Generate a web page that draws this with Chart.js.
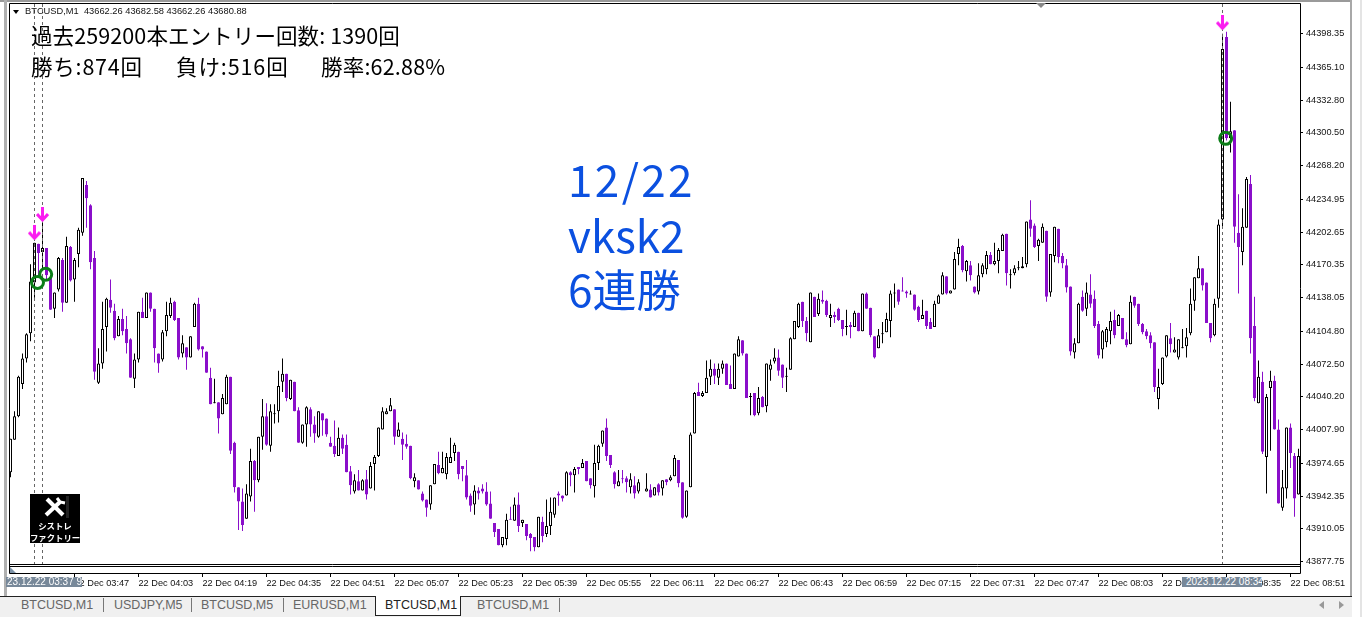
<!DOCTYPE html>
<html>
<head>
<meta charset="utf-8">
<title>BTCUSD,M1</title>
<script src="https://cdn.jsdelivr.net/npm/chart.js@4"></script>
<style>
  html, body { margin: 0; padding: 0; background: #fff; overflow: hidden; }
  body { width: 1362px; height: 617px; position: relative; font-family: "Liberation Sans", sans-serif; }
  #chart { position: absolute; left: 0; top: 0; }
  .abs { position: absolute; white-space: nowrap; }
  .stats { font-family: "Noto Sans CJK JP", sans-serif; font-size: 21.5px; line-height: 26px; color: #000; letter-spacing: 0.5px; }
  .big { font-family: "Noto Sans CJK JP", sans-serif; font-size: 44px; line-height: 56px; color: #0b50e0; left: 568px; }
  .datebox { background: #778899; color: #fff; font-size: 10px; line-height: 10px; height: 10px; top: 577px; overflow: hidden; }
  .tab { top: 598px; font-size: 12.5px; line-height: 15px; color: #666; }
  .sep { top: 598px; width: 1px; height: 14px; background: #777; }
  #logo { left: 30px; top: 494px; width: 50px; height: 49px; background: #000; color: #fff; text-align: center;
          font-family: "Noto Sans CJK JP", sans-serif; font-weight: 700; font-size: 8.4px; line-height: 12px; }
</style>
</head>
<body>
<canvas id="chart" width="1362" height="617"></canvas>

<!-- window frame -->
<div class="abs" style="left:0;top:0;width:1352px;height:2px;background:#9a9a9a"></div>
<div class="abs" style="left:4px;top:0;width:3px;height:596px;background:#b0b0b0"></div>
<div class="abs" style="left:1350px;top:0;width:2px;height:596px;background:#a8a8a8"></div>
<div class="abs" style="left:1360px;top:0;width:2px;height:617px;background:#e4e4e4"></div>
<div class="abs" style="left:0;top:596px;width:1352px;height:21px;background:#f0f0f0;border-top:1px solid #222;box-sizing:border-box"></div>

<!-- header -->
<div class="abs" style="left:13px;top:10px;border-left:3px solid transparent;border-right:3px solid transparent;border-top:4px solid #000"></div>
<div class="abs" style="left:1036px;top:3px;border-left:5px solid transparent;border-right:5px solid transparent;border-top:5px solid #888"></div>
<div class="abs" style="left:25px;top:6px;font-size:9.3px;line-height:11px;color:#111">BTCUSD,M1&nbsp; 43662.26 43682.58 43662.26 43680.88</div>
<div class="abs stats" style="left:31px;top:22px;letter-spacing:0.1px">過去259200本エントリー回数: 1390回</div>
<div class="abs stats" style="left:31px;top:53px;letter-spacing:0.8px">勝ち:874回</div>
<div class="abs stats" style="left:176px;top:53px;letter-spacing:0.9px">負け:516回</div>
<div class="abs stats" style="left:321px;top:53px;letter-spacing:0.2px">勝率:62.88%</div>

<div class="abs big" style="top:150px;letter-spacing:2.4px">12/22</div>
<div class="abs big" style="top:206px">vksk2</div>
<div class="abs big" style="top:260px">6連勝</div>

<!-- logo -->
<div class="abs" id="logo">
  <svg width="50" height="25" style="display:block">
    <g stroke="#fff" stroke-width="4" fill="none">
      <path d="M17 5 L33 21"/>
      <path d="M16 21 L30 8"/>
      <path d="M27 4 L30 8 L35 9" stroke-width="3"/>
    </g>
    <rect x="36" y="2" width="3" height="22" fill="#222"/>
  </svg>
  <div style="line-height:12px">シストレ</div>
  <div style="line-height:12px">ファクトリー</div>
</div>

<!-- strip marker and crosshair dates -->
<div class="abs" style="left:10px;top:567px;width:0;height:0;border-bottom:6px solid #7d93a8;border-right:6px solid transparent"></div>
<div class="abs datebox" style="left:6px;width:76px;text-indent:1px">23.12.22 03:37 9</div>
<div class="abs datebox" style="left:1182px;width:80px;text-indent:4px">2023.12.22 08:34</div>

<!-- tabs -->
<div class="abs" style="left:375px;top:596px;width:86px;height:20px;background:#fff;border:1px solid #222;border-top:0;box-sizing:border-box"></div>
<div class="abs tab" style="left:21px">BTCUSD,M1</div>
<div class="abs sep" style="left:103px"></div>
<div class="abs tab" style="left:114px">USDJPY,M5</div>
<div class="abs sep" style="left:191px"></div>
<div class="abs tab" style="left:201px">BTCUSD,M5</div>
<div class="abs sep" style="left:283px"></div>
<div class="abs tab" style="left:293px">EURUSD,M1</div>
<div class="abs tab" style="left:385px;color:#222">BTCUSD,M1</div>
<div class="abs tab" style="left:477px">BTCUSD,M1</div>
<div class="abs sep" style="left:559px"></div>
<div class="abs" style="left:1319px;top:601px;border-top:4px solid transparent;border-bottom:4px solid transparent;border-right:5px solid #999"></div>
<div class="abs" style="left:1339px;top:601px;border-top:4px solid transparent;border-bottom:4px solid transparent;border-left:5px solid #999"></div>

<script>
// candle values, one minute per bar, first bar is 03:31
const bodyTop = [
  43999,44021,44060,44078,44102,44154,44192,44191,44187,44187,
  44158,44143,44177,44175,44189,44188,44175,44205,44256,44249,
  44229,44177,44073,44107,44137,44136,44125,44117,44117,44107,
  44097,44077,44124,44124,44143,44143,44127,44083,44104,44121,
  44133,44134,44118,44093,44089,44100,44132,44132,44090,44085,
  44059,44035,44035,44039,44060,44060,43995,43951,43937,43945,
  43977,43977,44001,44021,44021,44026,44024,44051,44063,44063,
  44057,44055,44027,44013,44030,44028,44013,44026,44024,44019,
  43995,43992,44000,44000,43993,43967,43958,43957,43958,43959,
  43972,43981,44010,44026,44026,44032,44028,44008,43999,43994,
  43992,43961,43958,43945,43939,43953,43974,43973,43970,43981,
  43981,43993,43986,43972,43963,43943,43948,43948,43950,43947,
  43935,43916,43910,43902,43919,43920,43934,43934,43919,43915,
  43905,43902,43922,43917,43913,43927,43941,43945,43943,43966,
  43966,43969,43971,43975,43977,43960,43975,43992,44007,44010,
  43983,43966,43957,43960,43960,43959,43953,43956,43955,43950,
  43949,43951,43954,43958,43959,43961,43980,43978,43956,43948,
  44003,44044,44045,44044,44059,44068,44068,44068,44073,44073,
  44053,44083,44097,44096,44083,44041,44044,44039,44040,44073,
  44072,44079,44079,44072,44061,44098,44115,44132,44134,44115,
  44143,44139,44137,44136,44135,44121,44121,44127,44116,44110,
  44111,44123,44123,44142,44142,44128,44100,44101,44103,44117,
  44142,44143,44146,44145,44144,44142,44141,44129,44121,44125,
  44114,44132,44140,44160,44159,44145,44176,44188,44189,44174,
  44170,44149,44160,44170,44180,44180,44174,44185,44200,44201,
  44161,44167,44168,44169,44213,44215,44209,44195,44208,44204,
  44181,44208,44206,44179,44170,44149,44093,44132,44139,44143,
  44141,44137,44112,44105,44107,44115,44116,44121,44118,44097,
  44134,44139,44132,44112,44105,44101,44094,44050,44079,44101,
  44098,44087,44097,44089,44099,44132,44158,44167,44167,44153,
  44113,44132,44210,44383,44395,44302,44303,44202,44208,44255,
  44250,44110,44060,44055,44040,44056,44056,44008,43951,44010,
  44010,43982,43982
];
const bodyBottom = [
  43966,43998,44021,44053,44078,44103,44153,44182,44183,44160,
  44126,44127,44146,44133,44133,44155,44156,44181,44202,44236,
  44173,44065,44054,44073,44109,44128,44098,44100,44105,44093,
  44059,44058,44077,44118,44118,44127,44088,44073,44077,44105,
  44120,44116,44079,44083,44079,44079,44109,44087,44087,44064,
  44033,44034,44019,44023,44033,43987,43951,43937,43914,43920,
  43942,43958,43958,44001,43993,43992,44023,44026,44055,44039,
  44038,44026,43995,43995,44013,44013,44004,44001,44017,44003,
  43991,43984,43982,43989,43966,43953,43947,43948,43948,43944,
  43950,43974,43982,44008,44023,44026,44001,44001,43993,43991,
  43960,43957,43949,43938,43931,43934,43954,43965,43965,43964,
  43975,43985,43964,43969,43941,43933,43934,43945,43947,43934,
  43920,43907,43894,43894,43900,43919,43918,43913,43916,43903,
  43901,43892,43892,43903,43905,43913,43924,43943,43940,43943,
  43963,43963,43969,43970,43957,43953,43952,43975,43994,43982,
  43973,43954,43952,43959,43956,43951,43945,43947,43955,43947,
  43941,43943,43946,43950,43956,43958,43962,43955,43921,43922,
  43951,44004,44041,44041,44044,44060,44061,44059,44068,44052,
  44048,44048,44080,44083,44039,44040,44022,44024,44030,44031,
  44067,44075,44066,44059,44060,44067,44097,44109,44115,44103,
  44094,44119,44122,44134,44121,44118,44119,44116,44107,44109,
  44109,44109,44105,44105,44127,44101,44079,44088,44102,44104,
  44115,44142,44134,44144,44142,44141,44126,44116,44117,44110,
  44107,44109,44132,44141,44142,44142,44146,44181,44165,44164,
  44160,44143,44144,44161,44166,44171,44171,44174,44184,44162,
  44160,44162,44167,44167,44171,44206,44188,44189,44192,44139,
  44143,44179,44178,44172,44148,44085,44084,44093,44125,44127,
  44132,44110,44081,44087,44094,44105,44101,44110,44097,44091,
  44092,44130,44112,44104,44100,44093,44050,44038,44053,44080,
  44092,44084,44079,44088,44090,44103,44135,44157,44150,44113,
  44098,44101,44137,44215,44295,44295,44208,44188,44183,44207,
  44098,44039,44034,43986,43981,44049,44008,43935,43931,43950,
  43985,43940,43944
];
const highs = [
  43999,44026,44061,44083,44103,44171,44192,44191,44212,44187,
  44158,44143,44178,44177,44198,44189,44177,44207,44256,44253,
  44230,44184,44088,44134,44138,44156,44132,44120,44127,44120,
  44098,44083,44124,44138,44143,44143,44127,44083,44106,44134,
  44138,44135,44118,44101,44089,44100,44133,44138,44090,44085,
  44069,44058,44035,44043,44062,44060,43996,43951,43950,43954,
  43989,43978,44001,44038,44034,44033,44033,44066,44078,44063,
  44057,44055,44030,44013,44031,44030,44021,44026,44024,44019,
  44001,44017,44010,44003,44003,43972,43964,43968,43959,43968,
  43976,43983,44010,44030,44029,44039,44028,44015,44005,44003,
  43992,43965,43958,43947,43939,43953,43974,43986,43986,43985,
  44000,43995,43986,43972,43978,43945,43953,43951,43954,43956,
  43947,43916,43910,43902,43925,43932,43941,43946,43919,43915,
  43906,43902,43922,43922,43939,43941,43941,43947,43943,43967,
  43967,43971,43971,43979,43977,43960,43993,43993,44007,44019,
  43983,43967,43968,43968,43962,43965,43962,43959,43955,43965,
  43954,43951,43955,43958,43959,43963,43983,43978,43956,43948,
  44005,44045,44054,44046,44076,44077,44073,44073,44076,44073,
  44071,44083,44100,44096,44083,44044,44044,44050,44041,44073,
  44077,44088,44087,44072,44069,44099,44115,44133,44134,44119,
  44143,44139,44142,44145,44136,44132,44124,44128,44116,44126,
  44114,44125,44123,44142,44143,44128,44100,44107,44114,44123,
  44145,44152,44146,44158,44145,44145,44141,44130,44136,44125,
  44118,44135,44141,44163,44159,44145,44183,44196,44190,44175,
  44174,44149,44172,44172,44184,44183,44192,44187,44201,44201,
  44166,44170,44174,44178,44213,44234,44211,44196,44211,44204,
  44181,44208,44206,44182,44176,44149,44098,44133,44145,44153,
  44161,44145,44115,44106,44109,44124,44126,44122,44118,44104,
  44140,44139,44132,44113,44107,44104,44094,44068,44079,44101,
  44113,44099,44097,44107,44108,44147,44158,44179,44167,44153,
  44113,44137,44215,44398,44400,44331,44303,44240,44226,44257,
  44259,44139,44076,44065,44043,44066,44061,44018,43968,44010,
  44014,43985,43989
];
const lows = [
  43961,43998,44020,44048,44074,44095,44138,44158,44165,44155,
  44126,44118,44144,44124,44133,44154,44134,44168,44199,44207,
  44166,44057,44053,44068,44085,44123,44096,44100,44101,44083,
  44059,44049,44074,44118,44118,44124,44074,44064,44075,44100,
  44118,44115,44077,44079,44067,44079,44109,44086,44079,44064,
  44033,44034,44004,44023,44033,43984,43946,43909,43908,43920,
  43937,43927,43956,43988,43992,43986,44014,44015,44045,44036,
  44037,44026,43995,43994,43991,44001,43995,44000,44002,44001,
  43991,43981,43982,43984,43966,43944,43945,43948,43948,43939,
  43950,43948,43981,44008,44023,44026,43993,44001,43978,43989,
  43959,43951,43949,43937,43922,43929,43954,43964,43965,43959,
  43975,43977,43959,43957,43939,43927,43924,43939,43945,43933,
  43920,43902,43894,43892,43894,43919,43918,43907,43912,43899,
  43888,43888,43892,43897,43902,43904,43921,43933,43937,43943,
  43952,43946,43964,43970,43957,43950,43941,43968,43991,43977,
  43970,43950,43952,43955,43946,43945,43940,43945,43955,43947,
  43941,43943,43943,43943,43953,43957,43962,43951,43920,43921,
  43951,44004,44041,44040,44044,44052,44053,44052,44063,44052,
  44048,44048,44080,44081,44039,44022,44021,44022,44030,44025,
  44056,44073,44061,44049,44045,44067,44097,44108,44109,44095,
  44094,44119,44120,44132,44119,44109,44113,44115,44100,44101,
  44098,44109,44105,44105,44127,44099,44078,44088,44093,44104,
  44099,44128,44131,44144,44138,44141,44125,44114,44117,44107,
  44107,44109,44132,44141,44141,44142,44146,44170,44163,44154,
  44155,44142,44141,44158,44161,44171,44170,44162,44184,44150,
  44147,44160,44165,44167,44168,44198,44187,44174,44192,44134,
  44139,44173,44172,44167,44143,44081,44078,44093,44124,44120,
  44128,44108,44078,44078,44089,44092,44098,44110,44097,44089,
  44092,44128,44110,44102,44097,44088,44045,44028,44052,44079,
  44084,44084,44077,44088,44079,44101,44125,44157,44145,44113,
  44094,44100,44128,44207,44293,44281,44192,44142,44170,44207,
  44083,44036,44034,43984,43945,43987,44008,43935,43928,43940,
  43970,43922,43944
];
// U = rising candle, D = falling candle, G = flat green one
const directions = (
  "UUUUUUUDUD" + "DUUDUDUUUD" + "DDUUUDDUDD" + "DUUDUDDDUU" + "UDDUDUUDDD" +
  "DUDUUDDDDU" + "UDUUDUUUUD" + "UDDUUDDUDD" + "DDUDDDUDUD" + "UUUUUUDUDD" +
  "DUDDDUUDUU" + "UUDDDDUDDD" + "DDDUUDUDUD" + "DDUDUUUDDU" + "DUDUDDUUUD" +
  "DDUDDUDUGU" + "DUDUDUUDDU" + "UUDUUUDUUD" + "DUUDDUDUDU" + "UUDDUUUUDD" +
  "UDUDDUDDDU" + "DUDUDDDUUU" + "UUDDDUDDUD" + "DUUUDUUUDU" + "DDUUUDUUUD" +
  "UUUUUDDUUD" + "UUDDDDUUDU" + "DDDUUUDUDD" + "UDDDDDDUUU" + "DUUUUUUUDD" +
  "DUUUDUDDUU" + "DDUDUUDDUU" + "DDU"
).split("");

const yTicks = [44398.35,44365.10,44332.80,44300.50,44268.20,44234.95,44202.65,44170.35,44138.05,
                44104.80,44072.50,44040.20,44007.90,43974.65,43942.35,43910.05,43877.75];
const xTickBars = [16,32,48,64,80,96,112,128,144,160,176,192,208,224,240,256,272,288,304,320];
const xTickLabels = ["22 Dec 03:47","22 Dec 04:03","22 Dec 04:19","22 Dec 04:35","22 Dec 04:51",
  "22 Dec 05:07","22 Dec 05:23","22 Dec 05:39","22 Dec 05:55","22 Dec 06:11","22 Dec 06:27",
  "22 Dec 06:43","22 Dec 06:59","22 Dec 07:15","22 Dec 07:31","22 Dec 07:47","22 Dec 08:03",
  "22 Dec 08:19","22 Dec 08:35","22 Dec 08:51"];

// entries (arrow + dashed line) and exits (green ring)
const entryBars = [6, 8, 303];
const entryArrowPrices = [44202, 44220, 44409];
const exitBars = [6.75, 8.8, 303.8];
const exitPrices = [44153, 44161, 44295];

const yMax = 44427.43, yMin = 43866.6, stripPrice = 43875.5;
const PURPLE = "#8a0fca";

// small down arrow used as the point style
const arrow = document.createElement("canvas");
arrow.width = 13; arrow.height = 15;
const a = arrow.getContext("2d");
a.strokeStyle = "#fb1cf0"; a.lineWidth = 3;
a.beginPath();
a.moveTo(6.5, 0); a.lineTo(6.5, 13);
a.moveTo(1, 7); a.lineTo(6.5, 13); a.lineTo(12, 7);
a.stroke();

const candleColor = d => d === "D" ? PURPLE : d === "G" ? "#2fbf3a" : "#000";

const frame = {
  id: "frame",
  beforeDatasetsDraw(chart) {
    const { ctx, chartArea: c } = chart;
    ctx.save();
    ctx.strokeStyle = "#000";
    ctx.lineWidth = 1;
    ctx.beginPath();
    ctx.moveTo(c.left - 0.5, c.bottom + 0.5); ctx.lineTo(c.left - 0.5, c.top - 0.5);
    ctx.lineTo(c.right + 0.5, c.top - 0.5); ctx.lineTo(c.right + 0.5, c.bottom + 0.5);
    ctx.moveTo(c.left - 0.5, 564.5); ctx.lineTo(c.right + 0.5, 564.5);
    ctx.moveTo(c.left - 0.5, 566.5); ctx.lineTo(c.right + 0.5, 566.5);
    ctx.moveTo(c.left - 0.5, c.bottom + 0.5); ctx.lineTo(c.right + 0.5, c.bottom + 0.5);
    ctx.stroke();
    ctx.restore();
  }
};

const noAxisPadding = s => { s.paddingLeft = s.paddingRight = s.paddingTop = s.paddingBottom = 0; };

const entryLines = entryBars.map(b => ({
  type: "line", order: 1,
  data: [{ x: b, y: yMax }, { x: b, y: stripPrice }],
  borderColor: "#666", borderWidth: 1, borderDash: [3, 3], pointRadius: 0
}));

new Chart(document.getElementById("chart"), {
  type: "bar",
  data: {
    datasets: [
      {
        order: 3, grouped: false, barThickness: 1, inflateAmount: 0, borderWidth: 0,
        data: highs.map((h, i) => ({ x: i, y: [lows[i], h] })),
        backgroundColor: directions.map(candleColor)
      },
      {
        order: 2, grouped: false, barThickness: 3, inflateAmount: 0, borderWidth: 1, borderSkipped: false,
        data: bodyTop.map((t, i) => ({ x: i, y: [bodyBottom[i], t] })),
        backgroundColor: directions.map(d => d === "U" ? "#fff" : candleColor(d)),
        borderColor: directions.map(candleColor)
      },
      ...entryLines,
      {
        type: "line", order: 0, showLine: false,
        data: entryBars.map((b, i) => ({ x: b, y: entryArrowPrices[i] })),
        pointStyle: arrow, pointRadius: 7
      },
      {
        type: "line", order: 0, showLine: false,
        data: exitBars.map((b, i) => ({ x: b, y: exitPrices[i] })),
        pointStyle: "circle", pointRadius: 6, pointBorderWidth: 3,
        pointBorderColor: "#0b7d17", pointBackgroundColor: "rgba(0,0,0,0)"
      }
    ]
  },
  options: {
    responsive: false,
    animation: false,
    events: [],
    layout: { autoPadding: false, padding: { left: 10, top: 4, right: 0, bottom: 0 } },
    plugins: { legend: { display: false }, tooltip: { enabled: false } },
    scales: {
      x: {
        type: "linear", offset: false, min: -0.125, max: 322.375,
        afterBuildTicks(s) { s.ticks = xTickBars.map(v => ({ value: v })); },
        afterFit(s) { s.height = 44; noAxisPadding(s); },
        border: { display: false },
        grid: { offset: false, drawOnChartArea: false, tickLength: 4, tickColor: "#000", tickWidth: 1 },
        ticks: {
          autoSkip: false, maxRotation: 0, align: "start", padding: 1, color: "#111",
          font: { family: "Liberation Sans", size: 9.2 },
          callback: (v, i) => xTickLabels[i]
        }
      },
      y: {
        position: "right", min: yMin, max: yMax,
        afterBuildTicks(s) { s.ticks = yTicks.map(v => ({ value: v })); },
        afterFit(s) { s.width = 62; noAxisPadding(s); },
        border: { display: false },
        grid: { drawOnChartArea: false, tickLength: 3, tickColor: "#000", tickWidth: 1 },
        ticks: {
          padding: 3, color: "#111",
          font: { family: "Liberation Sans", size: 9.2 },
          callback: v => v.toFixed(2)
        }
      }
    }
  },
  plugins: [frame]
});
</script>
</body>
</html>
